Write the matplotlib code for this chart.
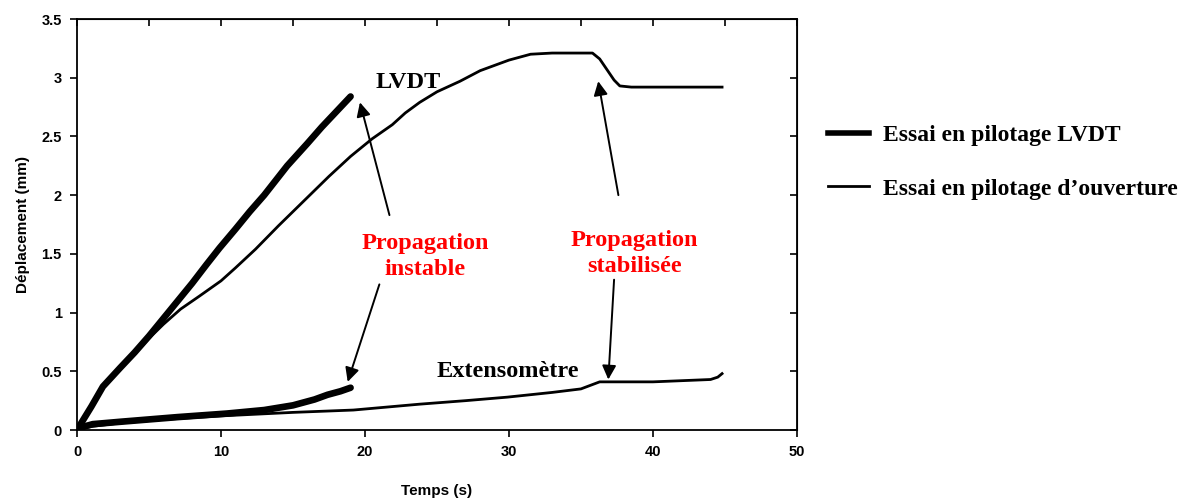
import matplotlib
matplotlib.use('Agg')
import matplotlib.pyplot as plt
from matplotlib.lines import Line2D

# Essai en pilotage LVDT (trait epais) - arrete a la propagation instable
lvdt_pil_t = [0, 0.5, 1, 1.8, 3, 4, 5, 5.8, 7, 8, 9, 9.9, 11, 12, 13, 14.6, 16, 17, 18, 19]
lvdt_pil_d = [0, 0.1, 0.2, 0.37, 0.53, 0.66, 0.8, 0.92, 1.1, 1.25, 1.41, 1.55, 1.71, 1.86,
              2.0, 2.25, 2.44, 2.58, 2.71, 2.84]
ext_pil_t = [0, 0.5, 1.1, 3, 5, 7, 10.4, 13, 15, 16.5, 17.4, 18.3, 19]
ext_pil_d = [0, 0.03, 0.05, 0.07, 0.09, 0.11, 0.14, 0.17, 0.21, 0.26, 0.3, 0.33, 0.36]

# Essai en pilotage d'ouverture (trait fin)
lvdt_ouv_t = [0, 0.5, 1, 1.8, 3, 4, 5, 6, 7.2, 8.5, 10, 11, 12.4, 14, 16, 17.5, 19, 20.5,
              21.9, 22.8, 23.8, 25, 26.6, 28, 30, 31.5, 33, 34.5, 35.8, 36.3, 36.8, 37.3,
              37.7, 38.5, 40, 42, 44.8]
lvdt_ouv_d = [0, 0.1, 0.2, 0.37, 0.52, 0.65, 0.78, 0.9, 1.03, 1.14, 1.27, 1.38, 1.54, 1.74,
              1.98, 2.16, 2.33, 2.48, 2.6, 2.7, 2.79, 2.88, 2.97, 3.06, 3.15, 3.2, 3.21, 3.21,
              3.21, 3.16, 3.07, 2.98, 2.93, 2.92, 2.92, 2.92, 2.92]
ext_ouv_t = [0, 1, 3, 6, 10, 15, 19.2, 23.8, 27, 29.9, 33, 35, 36.3, 38, 40, 42, 44, 44.5, 44.8]
ext_ouv_d = [0, 0.03, 0.06, 0.09, 0.12, 0.15, 0.17, 0.22, 0.25, 0.28, 0.32, 0.35, 0.41, 0.41,
             0.41, 0.42, 0.43, 0.45, 0.48]

x_ticks = [0, 10, 20, 30, 40, 50]
y_ticks = [0, 0.5, 1, 1.5, 2, 2.5, 3, 3.5]
y_labels = ['0', '0.5', '1', '1.5', '2', '2.5', '3', '3.5']
legend_labels = ['Essai en pilotage LVDT', 'Essai en pilotage d\u2019ouverture']

SANS = 'Liberation Sans'
SERIF = 'Liberation Serif'
RED = '#ff0000'

fig = plt.figure(figsize=(11.81, 5.0), dpi=100)
ax = fig.add_axes([0.0652, 0.14, 0.6096, 0.822])

thick = dict(color='k', lw=4.8, solid_capstyle='round', solid_joinstyle='round')
thin = dict(color='k', lw=2.0, solid_joinstyle='round')
ax.plot(lvdt_pil_t, lvdt_pil_d, **thick)
ax.plot(ext_pil_t, ext_pil_d, **thick)
ax.plot(lvdt_ouv_t, lvdt_ouv_d, **thin)
ax.plot(ext_ouv_t, ext_ouv_d, **thin)

ax.set_xlim(0, 50)
ax.set_ylim(0, 3.5)
ax.set_xticks(x_ticks)
ax.set_yticks(y_ticks)
ax.set_yticklabels(y_labels)
ax.tick_params(direction='out', length=5, width=1.2, labelsize=10.5, pad=6)
for lab in ax.get_xticklabels() + ax.get_yticklabels():
    lab.set_fontfamily(SANS)
    lab.set_fontweight('bold')
for s in ax.spines.values():
    s.set_linewidth(1.3)

# ticks interieurs en haut et a droite
top = ax.secondary_xaxis('top')
top.set_xticks(range(0, 51, 5))
top.tick_params(direction='in', length=5, width=1.2, labeltop=False)
right = ax.secondary_yaxis('right')
right.set_yticks(y_ticks)
right.tick_params(direction='in', length=5, width=1.2, labelright=False)

ax.set_xlabel('Temps (s)', fontfamily=SANS, fontweight='bold', fontsize=11, labelpad=18)
ax.set_ylabel('D\u00e9placement (mm)', fontfamily=SANS, fontweight='bold', fontsize=11,
              labelpad=8)

tfont = dict(fontfamily=SERIF, fontweight='bold', fontsize=17.5, ha='center', va='center')
ax.text(23.0, 2.96, 'LVDT', **tfont)
ax.text(29.9, 0.5, 'Extensom\u00e8tre', **tfont)
ax.text(24.2, 1.48, 'Propagation\ninstable', color=RED, linespacing=1.3, **tfont)
ax.text(38.7, 1.5, 'Propagation\nstabilis\u00e9e', color=RED, linespacing=1.3, **tfont)

arrow = dict(arrowstyle='-|>', color='k', lw=1.4, mutation_scale=21, shrinkA=0, shrinkB=0)
for (x0, y0), (x1, y1) in [((21.7, 1.83), (19.65, 2.79)), ((21.0, 1.24), (18.8, 0.41)),
                           ((37.6, 2.0), (36.2, 2.97)), ((37.3, 1.28), (36.9, 0.43))]:
    ax.annotate('', xy=(x1, y1), xytext=(x0, y0), arrowprops=arrow)

handles = [Line2D([], [], color='k', lw=4), Line2D([], [], color='k', lw=2)]
fig.legend(handles, legend_labels, loc='upper left', bbox_to_anchor=(0.683, 0.793),
           frameon=False, handlelength=1.75, handletextpad=0.6, labelspacing=1.35,
           prop=dict(family=SERIF, weight='bold', size=17))

fig.savefig('out.png', dpi=100)
plt.close(fig)
